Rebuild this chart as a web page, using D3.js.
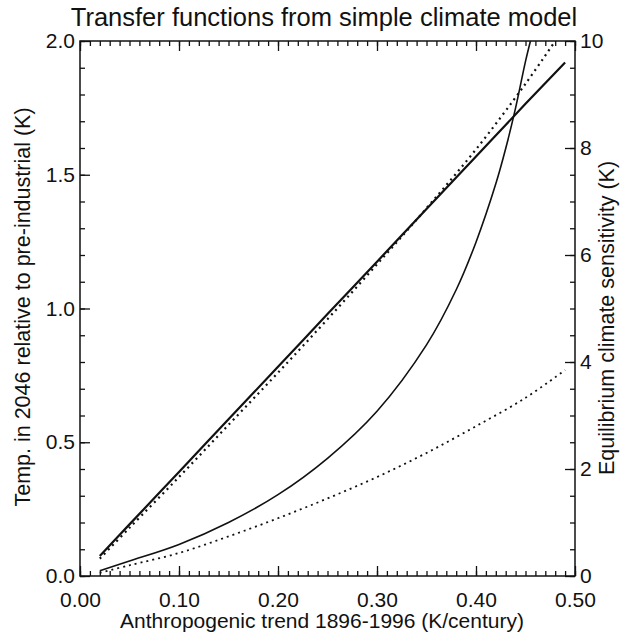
<!DOCTYPE html>
<html><head><meta charset="utf-8">
<script src="https://cdn.jsdelivr.net/npm/d3@7"></script>
<style>
html,body{margin:0;padding:0;background:#fff;}
text{font-family:"Liberation Sans",Arial,Helvetica,sans-serif;fill:#111;}
</style></head>
<body>
<svg id="chart" width="627" height="634"></svg>
<script>
// ---- data ----
const title = "Transfer functions from simple climate model";
const xLabel = "Anthropogenic trend 1896-1996 (K/century)";
const yLabelLeft = "Temp. in 2046 relative to pre-industrial (K)";
const yLabelRight = "Equilibrium climate sensitivity (K)";

const xTickValues = [0, 0.1, 0.2, 0.3, 0.4, 0.5];
const yLeftTickValues = [0, 0.5, 1.0, 1.5, 2.0];
const yRightTickValues = [0, 2, 4, 6, 8, 10];

// transient temperature (left axis), solid
const trendA = [0.02,0.05,0.10,0.15,0.20,0.25,0.30,0.35,0.40,0.45,0.49];
const tempSolid = [0.075,0.193,0.389,0.586,0.782,0.979,1.175,1.372,1.568,1.765,1.92];
// transient temperature (left axis), dotted
const trendB = [0.02,0.05,0.10,0.15,0.20,0.25,0.30,0.35,0.40,0.45,0.48];
const tempDotted = [0.065,0.18,0.37,0.565,0.76,0.96,1.165,1.375,1.595,1.84,2.00];
// climate sensitivity (right axis), solid
const trendC = [0.02,0.05,0.10,0.15,0.20,0.25,0.30,0.35,0.38,0.40,0.42,0.43,0.44,0.45,0.455];
const sensSolid = [0.10,0.28,0.59,1.00,1.52,2.20,3.08,4.32,5.35,6.24,7.33,7.99,8.75,9.62,10.0];
// climate sensitivity (right axis), dotted
const trendD = [0.02,0.05,0.10,0.15,0.20,0.25,0.30,0.35,0.40,0.45,0.49];
const sensDotted = [0.06,0.20,0.43,0.74,1.08,1.45,1.85,2.30,2.80,3.33,3.85];

// ---- layout ----
const L = 80, R = 575, T = 41, B = 576;
const svg = d3.select("#chart");

const x = d3.scaleLinear().domain([0, 0.5]).range([L, R]);
const yL = d3.scaleLinear().domain([0, 2]).range([B, T]);
const yR = d3.scaleLinear().domain([0, 10]).range([B, T]);

const minorX = d3.range(0, 0.5001, 0.01);
const minorYL = d3.range(0, 2.0001, 0.1);
const minorYR = d3.range(0, 10.001, 0.5);

function styleAxis(g){
  g.select(".domain").remove();
  g.selectAll(".tick line").attr("stroke","#111").attr("stroke-width",1.3);
  g.selectAll(".tick text").attr("font-size",21).attr("fill","#111")
    .attr("font-family","Liberation Sans, Arial, sans-serif");
}

// minor ticks
svg.append("g").attr("transform",`translate(0,${B})`)
  .call(d3.axisBottom(x).tickValues(minorX).tickSize(-5).tickFormat(""))
  .call(styleAxis);
svg.append("g").attr("transform",`translate(0,${T})`)
  .call(d3.axisTop(x).tickValues(minorX).tickSize(-5).tickFormat(""))
  .call(styleAxis);
svg.append("g").attr("transform",`translate(${L},0)`)
  .call(d3.axisLeft(yL).tickValues(minorYL).tickSize(-5).tickFormat(""))
  .call(styleAxis);
svg.append("g").attr("transform",`translate(${R},0)`)
  .call(d3.axisRight(yR).tickValues(minorYR).tickSize(-5).tickFormat(""))
  .call(styleAxis);

// major ticks with labels
svg.append("g").attr("transform",`translate(0,${B})`)
  .call(d3.axisBottom(x).tickValues(xTickValues).tickSize(-10).tickPadding(16).tickFormat(d3.format(".2f")))
  .call(styleAxis);
svg.append("g").attr("transform",`translate(0,${T})`)
  .call(d3.axisTop(x).tickValues(xTickValues).tickSize(-10).tickFormat(""))
  .call(styleAxis);
svg.append("g").attr("transform",`translate(${L},0)`)
  .call(d3.axisLeft(yL).tickValues(yLeftTickValues).tickSize(-10).tickPadding(5).tickFormat(d3.format(".1f")))
  .call(styleAxis);
svg.append("g").attr("transform",`translate(${R},0)`)
  .call(d3.axisRight(yR).tickValues(yRightTickValues).tickSize(-10).tickPadding(5).tickFormat(d3.format("d")))
  .call(styleAxis);

// frame
svg.append("rect").attr("x",L).attr("y",T).attr("width",R-L).attr("height",B-T)
  .attr("fill","none").attr("stroke","#111").attr("stroke-width",1.5);

// curves
svg.append("clipPath").attr("id","plotclip")
  .append("rect").attr("x",L).attr("y",T).attr("width",R-L).attr("height",B-T);
const plot = svg.append("g").attr("clip-path","url(#plotclip)");

function draw(xs, ys, yScale, dotted, w){
  const line = d3.line().x(d=>x(d[0])).y(d=>yScale(d[1])).curve(d3.curveCatmullRom.alpha(0.5));
  plot.append("path").datum(xs.map((v,i)=>[v, ys[i]]))
    .attr("d", line).attr("fill","none").attr("stroke","#111")
    .attr("stroke-width", w)
    .attr("stroke-dasharray", dotted ? "2,4" : null);
}
draw(trendA, tempSolid, yL, false, 2.2);
draw(trendB, tempDotted, yL, true, 2.2);
draw(trendC, sensSolid, yR, false, 1.6);
draw(trendD, sensDotted, yR, true, 1.8);

// texts
svg.append("text").attr("x",324).attr("y",26).attr("text-anchor","middle")
  .attr("font-size",25.5).text(title);
svg.append("text").attr("x",322).attr("y",628).attr("text-anchor","middle")
  .attr("font-size",21).text(xLabel);
svg.append("text").attr("transform",`translate(30,307) rotate(-90)`)
  .attr("text-anchor","middle").attr("font-size",21.5).text(yLabelLeft);
svg.append("text").attr("transform",`translate(614,318) rotate(-90)`)
  .attr("text-anchor","middle").attr("font-size",21.5).text(yLabelRight);
</script>
</body></html>
